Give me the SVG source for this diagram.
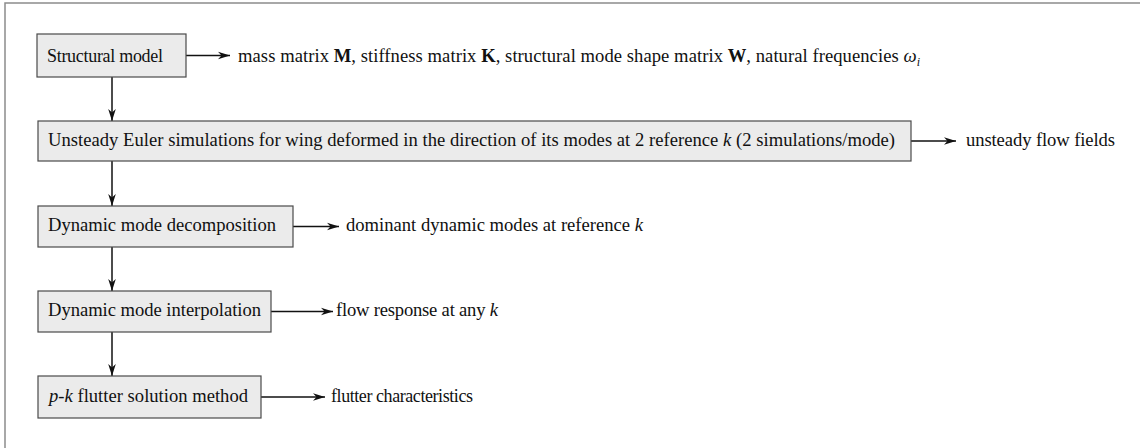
<svg xmlns="http://www.w3.org/2000/svg" width="1140" height="448" viewBox="0 0 1140 448">
  <style>
    .frame { fill: none; stroke: #8c8c8c; stroke-width: 1.5; }
    .box { fill: #ebebeb; stroke: #4a4a4a; stroke-width: 1.2; }
    .t { font-family: "Liberation Serif", "Times New Roman", serif; font-size: 18.6px; fill: #111; }
    .conn { stroke: #111; stroke-width: 1.5; fill: none; marker-end: url(#ah); }
    .i { font-style: italic; }
    .b { font-weight: bold; }
    .sub { font-size: 12px; }
    .sm { font-size: 18px; }
  </style>
  <defs>
    <marker id="ah" markerUnits="userSpaceOnUse" markerWidth="13" markerHeight="9" refX="12" refY="4.5" orient="auto">
      <path d="M0,0.7 L12,4.5 L0,8.3 L3.5,4.5 z" fill="#111"/>
    </marker>
  </defs>
  <rect x="0" y="0" width="1140" height="448" fill="#ffffff"/>
  <rect class="frame" x="5" y="3" width="1145" height="460"/>

  <g id="connectors">
    <line class="conn" x1="186" y1="55.5" x2="230" y2="55.5"/>
    <line class="conn" x1="911" y1="141" x2="956" y2="141"/>
    <line class="conn" x1="293" y1="226.5" x2="339" y2="226.5"/>
    <line class="conn" x1="271" y1="311.5" x2="333" y2="311.5"/>
    <line class="conn" x1="261" y1="397" x2="325" y2="397"/>
    <line class="conn" x1="112" y1="77" x2="112" y2="121"/>
    <line class="conn" x1="112" y1="161" x2="112" y2="206"/>
    <line class="conn" x1="112" y1="247" x2="112" y2="291"/>
    <line class="conn" x1="112" y1="332" x2="112" y2="376"/>
  </g>

  <g id="structural-model">
    <rect class="box" x="37" y="34" width="149" height="43"/>
    <text class="t sm" x="47" y="62" textLength="116">Structural model</text>
  </g>
  <g id="structural-output">
    <text class="t" x="238" y="62" textLength="682">mass matrix <tspan class="b">M</tspan>, stiffness matrix <tspan class="b">K</tspan>, structural mode shape matrix <tspan class="b">W</tspan>, natural frequencies <tspan class="i">ω</tspan><tspan class="i sub" dy="4">i</tspan></text>
  </g>

  <g id="unsteady-euler">
    <rect class="box" x="38" y="121" width="873" height="40"/>
    <text class="t" x="48" y="146" textLength="847">Unsteady Euler simulations for wing deformed in the direction of its modes at 2 reference <tspan class="i">k</tspan> (2 simulations/mode)</text>
  </g>
  <g id="euler-output">
    <text class="t" x="966" y="146" textLength="149">unsteady flow fields</text>
  </g>

  <g id="dmd">
    <rect class="box" x="38" y="206" width="255" height="41"/>
    <text class="t" x="48" y="231" textLength="228">Dynamic mode decomposition</text>
  </g>
  <g id="dmd-output">
    <text class="t" x="346" y="231" textLength="297">dominant dynamic modes at reference <tspan class="i">k</tspan></text>
  </g>

  <g id="dmi">
    <rect class="box" x="38" y="291" width="233" height="41"/>
    <text class="t" x="48" y="316" textLength="213">Dynamic mode interpolation</text>
  </g>
  <g id="dmi-output">
    <text class="t" x="336" y="316" textLength="162">flow response at any <tspan class="i">k</tspan></text>
  </g>

  <g id="pk-method">
    <rect class="box" x="38" y="376" width="223" height="42"/>
    <text class="t" x="49" y="402" textLength="199"><tspan class="i">p</tspan>-<tspan class="i">k</tspan> flutter solution method</text>
  </g>
  <g id="pk-output">
    <text class="t sm" x="331" y="402" textLength="142">flutter characteristics</text>
  </g>
</svg>
